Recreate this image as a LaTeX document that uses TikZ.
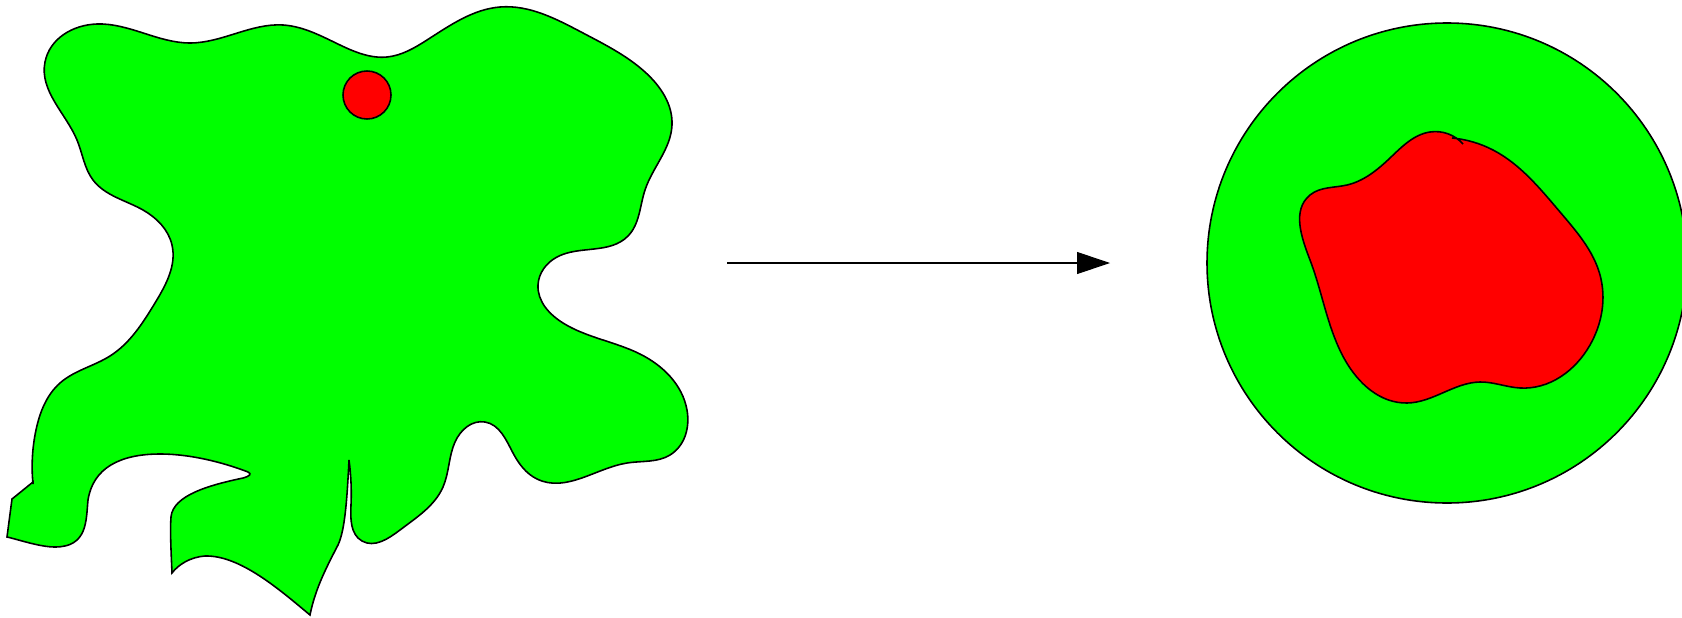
\documentclass[tikz,border=0pt]{standalone}
\usepackage{amsmath}
\usepackage{xcolor}
\usepackage{tikz}
\usetikzlibrary{arrows.meta,hobby}

\definecolor{cellgreen}{RGB}{0,255,0}
\definecolor{cellred}{RGB}{255,0,0}

\tikzset{
    cellbody/.style={fill=cellgreen, draw=black, line width=0.45pt},
    nucleus/.style={fill=cellred, draw=black, line width=0.45pt},
}

\begin{document}
\begin{tikzpicture}[x=0.1mm, y=-0.1mm]
    \useasboundingbox (0,0) rectangle (1682,617);
    \filldraw[cellbody] (33,484)
        to[curve through={(36,430) (60,383) (110,356) (155,303) (172,245) (143,210) (93,180) (77,140) (45,62) (97,24) (190,43) (283,25) (340,45) (387,57) (427,40) (500,7) (583,33) (645,72) (672,125) (645,190) (628,236) (557,257) (538,285) (563,323) (640,354) (687,410) (670,455) (627,463) (537,479) (513,453) (485,422) (455,442) (443,487) (400,530) (362,541) (351,505)}] (349,460)
        .. controls (347,500) and (345,530) .. (338,545)
        .. controls (325,570) and (315,590) .. (310,615)
        .. controls (280,590) and (240,555) .. (205,556)
        .. controls (190,557) and (178,565) .. (172,573)
        .. controls (171,550) and (170,530) .. (171,517)
        .. controls (173,495) and (210,485) .. (243,478)
        .. controls (250,476) and (252,474) .. (248,472)
        .. controls (230,465) and (195,454) .. (160,454)
        .. controls (120,454) and (93,468) .. (88,500)
        .. controls (86,520) and (88,547) .. (55,547)
        .. controls (40,547) and (20,540) .. (7,537)
        -- (12,499) -- (33,482) -- cycle;
    \filldraw[nucleus] (367,95) circle[radius=2.4mm];
    \coordinate (from) at (727,263);
    \coordinate (to) at (1110,263);
    \draw[line width=0.3pt, -{Triangle[length=3.3mm,width=2.2mm]}] (from) -- (to);
    \filldraw[cellbody] (1447,263) circle[radius=24mm];
    \filldraw[nucleus] (1452,138)
        to[curve through={(1493,150) (1560,212) (1600,275) (1590,345) (1520,388) (1480,382) (1407,403) (1345,360) (1310,260) (1310,195) (1347,185) (1390,158) (1430,132)}] (1463,144);
\end{tikzpicture}
\end{document}
